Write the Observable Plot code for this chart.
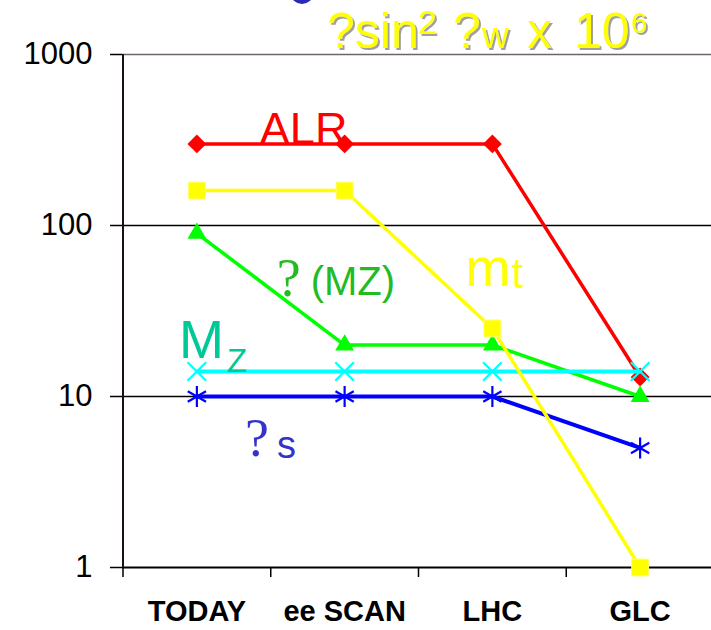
<!DOCTYPE html>
<html>
<head>
<meta charset="utf-8">
<script src="https://cdn.jsdelivr.net/npm/d3@7"></script>
<script src="https://cdn.jsdelivr.net/npm/@observablehq/plot@0.6"></script>
<style>
  html, body { margin: 0; padding: 0; background: #fff; }
  #chart { width: 711px; height: 630px; overflow: hidden; }
</style>
</head>
<body>
<div id="chart"></div>
<script>
// Facilities along the x axis
const categories = ["TODAY", "ee SCAN", "LHC", "GLC"];

// Precision of each quantity at each stage (log scale)
const alr = [300, 300, 300, 13];        // ALR
const mTop = [160, 160, 25, 1];         // m_t
const alphaMZ = [90, 20, 20, 10];       // ?(MZ)
const massZ = [14, 14, 14, 14];         // M_Z
const alphaS = [10, 10, 10, 5];         // ?_s

const yTicks = [1, 10, 100, 1000];
const tickEdges = [-0.5, 0.5, 1.5, 2.5, 3.5];

const rows = values => values.map((v, i) => ({i, v}));

// A free-standing annotation anchored to a data point
function note(str, i, v, opts) {
  return Plot.text([str], {
    x: () => i, y: () => v, text: d => d,
    lineAnchor: "bottom", textAnchor: "start", ...opts
  });
}

const sans = "Liberation Sans, Arial, sans-serif";
const serif = "Liberation Serif, Times New Roman, serif";

const plot = Plot.plot({
  width: 711,
  height: 630,
  marginTop: 54,
  marginBottom: 63,
  marginLeft: 122,
  marginRight: 0,
  style: {fontFamily: sans, background: "#fff", overflow: "visible"},
  x: {type: "linear", domain: [-0.5, 3.5], range: [122.5, 713.5], label: null},
  y: {type: "log", domain: [1, 1000], label: null},
  marks: [
    // gridlines and frame
    Plot.ruleY([1000], {stroke: "#6e6666", strokeWidth: 1.5}),
    Plot.ruleY([10, 100], {stroke: "#000", strokeWidth: 1.5}),
    Plot.ruleY([1], {stroke: "#000", strokeWidth: 2}),
    Plot.ruleX([-0.5], {stroke: "#1a1010", strokeWidth: 2}),
    Plot.axisY({
      ticks: yTicks, tickFormat: d => String(d), tickSize: 12, tickPadding: 18,
      fontSize: 31, stroke: "#000", strokeWidth: 1.5, strokeOpacity: 1, fill: "#000", label: null
    }),
    Plot.axisX({
      ticks: tickEdges, tickFormat: () => "", tickSize: 10,
      stroke: "#000", strokeWidth: 1.5, strokeOpacity: 1, label: null
    }),
    Plot.axisX({
      ticks: [0, 1, 2, 3], tickFormat: i => categories[i], tickSize: 0, tickPadding: 33,
      fontSize: 29, fontWeight: "bold", fill: "#000", label: null
    }),

    // series
    Plot.line(rows(alr), {x: "i", y: "v", stroke: "#ff0000", strokeWidth: 3.5}),
    Plot.dot(rows(alr), {x: "i", y: "v", symbol: "diamond2", fill: "#ff0000", r: 8.5}),

    Plot.line(rows(alphaMZ), {x: "i", y: "v", stroke: "#00ff00", strokeWidth: 3.5}),
    Plot.dot(rows(alphaMZ), {x: "i", y: "v", symbol: "triangle2", fill: "#00ff00", r: 9}),

    Plot.line(rows(alphaS), {x: "i", y: "v", stroke: "#0000ff", strokeWidth: 4}),
    Plot.dot(rows(alphaS), {x: "i", y: "v", symbol: "asterisk", stroke: "#0000ff", strokeWidth: 2.2, r: 10}),

    Plot.line(rows(massZ), {x: "i", y: "v", stroke: "#00ffff", strokeWidth: 4}),
    Plot.dot(rows(massZ), {x: "i", y: "v", symbol: "times", stroke: "#00ffff", strokeWidth: 2.2, r: 8.5}),

    Plot.line(rows(mTop), {x: "i", y: "v", stroke: "#ffff00", strokeWidth: 3.5}),
    Plot.dot(rows(mTop), {x: "i", y: "v", symbol: "square", fill: "#ffff00", stroke: "#ffff66", strokeWidth: 1, r: 9.5}),

    // series labels
    note("ALR", 1, alr[1], {dx: -41, dy: 0, textAnchor: "middle", fill: "#ff0000", fontSize: 45}),

    note("?", 1, alphaMZ[1], {dx: -56, dy: -49, textAnchor: "middle", fill: "#22bb22", fontSize: 54, fontFamily: serif}),
    note("(MZ)", 1, alphaMZ[1], {dx: -34, dy: -50, fill: "#22bb22", fontSize: 40}),

    note("m", 2, mTop[2], {dx: -27, dy: -42, fill: "#ffff00", fontSize: 54}),
    note("t", 2, mTop[2], {dx: 19, dy: -40, fill: "#ffff00", fontSize: 42}),

    note("M", 0, massZ[0], {dx: -18, dy: -14, fill: "#00c896", fontSize: 54}),
    note("Z", 0, massZ[0], {dx: 30, dy: 0, fill: "#00c896", fontSize: 33}),

    note("?", 0, alphaS[0], {dx: 60, dy: 59, textAnchor: "middle", fill: "#3333cc", fontSize: 54, fontFamily: serif}),
    note("s", 0, alphaS[0], {dx: 80, dy: 61, fill: "#3333cc", fontSize: 38})
  ]
});

// Heading above the frame: ?sin²?w x 10⁶ in yellow with a soft grey shadow
const svg = d3.select(plot);
svg.append("defs").append("filter")
  .attr("id", "heading-shadow")
  .attr("x", "-10%").attr("y", "-20%").attr("width", "120%").attr("height", "150%")
  .append("feDropShadow")
  .attr("dx", 2).attr("dy", 2).attr("stdDeviation", 0.4)
  .attr("flood-color", "#a0a0a0").attr("flood-opacity", 1);

svg.append("ellipse")
  .attr("cx", 302).attr("cy", -6).attr("rx", 11).attr("ry", 10)
  .attr("fill", "#2a2ab4");

const parts = [
  {t: "?sin", x: 327, y: 48, size: 50},
  {t: "2", x: 418, y: 34, size: 34},
  {t: "?", x: 453, y: 48, size: 50},
  {t: "w", x: 482, y: 48, size: 37},
  {t: "x", x: 527, y: 48, size: 50},
  {t: "10", x: 574, y: 48, size: 50},
  {t: "6", x: 631, y: 33, size: 29}
];
const heading = svg.append("text")
  .attr("font-family", sans)
  .attr("text-anchor", "start")
  .attr("fill", "#ffff00")
  .attr("filter", "url(#heading-shadow)");
for (const p of parts) {
  heading.append("tspan")
    .attr("x", p.x).attr("y", p.y)
    .attr("font-size", p.size)
    .text(p.t);
}

document.getElementById("chart").appendChild(plot);
</script>
</body>
</html>
